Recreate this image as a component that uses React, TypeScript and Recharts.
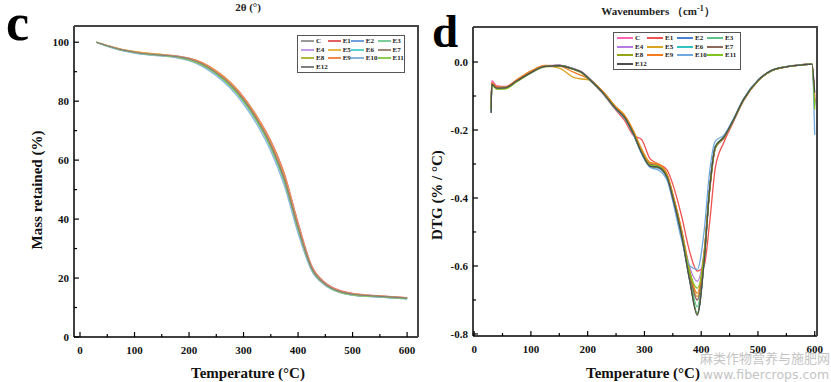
import React from "react";
import { LineChart, Line, XAxis, YAxis, Legend } from "recharts";

const SERIF = "'Liberation Serif', 'DejaVu Serif', serif";

const SERIES = ["C", "E1", "E2", "E3", "E4", "E5", "E6", "E7", "E8", "E9", "E10", "E11", "E12"];

const TG_COLORS = ["#9a9a9a", "#e06060", "#6fa0dc", "#7ccc9a", "#c39be6", "#e8b84a", "#5fd0d0", "#a08878", "#b0b840", "#f08a4a", "#8ab4e0", "#8ccc50", "#808080"];
const DTG_COLORS = ["#ff66b2", "#ef5350", "#4a7fd6", "#5cc48a", "#b57be0", "#d9a520", "#2ec4c4", "#8b6a5c", "#94a617", "#f47b20", "#6fa8dc", "#7fc31c", "#4d4d4d"];

// TG curves (mass retained, %)
const TG_TEMPS = [30, 50, 75, 100, 125, 150, 175, 200, 225, 250, 275, 300, 325, 350, 375, 400, 425, 450, 475, 500, 550, 600];
const TG_C = [100, 98.8, 97.4, 96.5, 95.9, 95.5, 95.1, 94.2, 92.4, 89.5, 85.6, 80.3, 73.4, 64.8, 53.2, 37.0, 23.2, 17.8, 15.4, 14.4, 13.7, 13.1];
const TG_E1 = [100, 98.9, 97.6, 96.8, 96.2, 95.8, 95.4, 94.6, 93.0, 90.3, 86.6, 81.5, 74.8, 66.6, 55.4, 38.9, 24.2, 18.4, 15.9, 14.8, 14.0, 13.4];
const TG_E2 = [100, 98.7, 97.4, 96.5, 95.9, 95.5, 95.0, 94.0, 92.1, 89.1, 85.1, 79.9, 73.0, 64.3, 52.6, 36.5, 23.0, 17.7, 15.3, 14.3, 13.6, 13.0];
const TG_E3 = [100, 98.8, 97.5, 96.6, 96.0, 95.6, 95.2, 94.3, 92.6, 89.8, 86.0, 80.8, 74.0, 65.5, 54.0, 37.6, 23.5, 18.0, 15.5, 14.5, 13.8, 13.2];
const TG_E4 = [100, 98.8, 97.5, 96.7, 96.1, 95.7, 95.3, 94.5, 92.8, 90.0, 86.2, 81.0, 74.2, 65.8, 54.4, 38.2, 23.9, 18.2, 15.7, 14.6, 13.9, 13.3];
const TG_E5 = [100, 98.9, 97.7, 96.9, 96.3, 95.9, 95.3, 94.4, 92.9, 90.2, 86.4, 81.2, 74.5, 66.0, 54.6, 38.0, 23.7, 18.1, 15.6, 14.6, 13.9, 13.3];
const TG_E6 = [100, 98.7, 97.3, 96.4, 95.8, 95.4, 94.9, 93.9, 92.0, 89.0, 85.0, 79.7, 72.8, 64.0, 52.2, 36.0, 22.7, 17.6, 15.2, 14.2, 13.5, 12.9];
const TG_E7 = [100, 98.8, 97.5, 96.6, 96.0, 95.6, 95.2, 94.3, 92.5, 89.7, 85.9, 80.6, 73.8, 65.2, 53.6, 37.3, 23.4, 17.9, 15.5, 14.5, 13.8, 13.2];
const TG_E8 = [100, 98.8, 97.4, 96.5, 95.9, 95.5, 95.1, 94.1, 92.3, 89.4, 85.5, 80.2, 73.3, 64.6, 53.0, 36.8, 23.1, 17.8, 15.4, 14.4, 13.7, 13.1];
const TG_E9 = [100, 98.9, 97.6, 96.7, 96.1, 95.7, 95.3, 94.5, 92.9, 90.1, 86.3, 81.1, 74.3, 65.9, 54.5, 38.1, 23.8, 18.2, 15.7, 14.6, 13.9, 13.3];
const TG_E10 = [100, 98.6, 97.2, 96.3, 95.7, 95.3, 94.8, 93.7, 91.7, 88.6, 84.5, 79.0, 71.9, 63.0, 51.2, 35.2, 22.4, 17.5, 15.2, 14.2, 13.5, 12.9];
const TG_E11 = [100, 98.7, 97.4, 96.5, 95.9, 95.5, 95.0, 94.0, 92.2, 89.3, 85.3, 80.0, 73.1, 64.4, 52.8, 36.6, 23.0, 17.7, 15.3, 14.3, 13.6, 13.0];
const TG_E12 = [100, 98.8, 97.5, 96.6, 96.0, 95.6, 95.2, 94.3, 92.5, 89.6, 85.8, 80.5, 73.6, 65.0, 53.4, 37.2, 23.3, 17.9, 15.5, 14.5, 13.8, 13.2];

// DTG curves (% / °C)
const DTG_TEMPS = [30, 31, 40, 55, 75, 100, 125, 150, 175, 190, 200, 225, 250, 265, 280, 295, 310, 325, 340, 350, 365, 380, 393, 405, 415, 425, 440, 455, 475, 500, 525, 550, 575, 595, 600];
const DTG_C = [-0.130, -0.055, -0.070, -0.072, -0.053, -0.028, -0.011, -0.009, -0.019, -0.029, -0.043, -0.084, -0.133, -0.158, -0.203, -0.260, -0.298, -0.303, -0.333, -0.390, -0.495, -0.620, -0.700, -0.570, -0.368, -0.250, -0.223, -0.178, -0.110, -0.055, -0.025, -0.014, -0.009, -0.006, -0.110];
const DTG_E1 = [-0.130, -0.060, -0.072, -0.073, -0.054, -0.029, -0.012, -0.010, -0.021, -0.032, -0.047, -0.090, -0.142, -0.172, -0.215, -0.228, -0.285, -0.300, -0.318, -0.360, -0.450, -0.560, -0.615, -0.600, -0.470, -0.310, -0.236, -0.182, -0.113, -0.056, -0.025, -0.014, -0.008, -0.005, -0.100];
const DTG_E2 = [-0.145, -0.066, -0.076, -0.076, -0.056, -0.031, -0.013, -0.011, -0.021, -0.031, -0.046, -0.087, -0.138, -0.163, -0.210, -0.268, -0.308, -0.312, -0.342, -0.402, -0.510, -0.645, -0.740, -0.590, -0.372, -0.248, -0.220, -0.176, -0.108, -0.054, -0.024, -0.014, -0.009, -0.006, -0.130];
const DTG_E3 = [-0.140, -0.065, -0.075, -0.074, -0.055, -0.030, -0.012, -0.010, -0.020, -0.030, -0.044, -0.085, -0.135, -0.160, -0.205, -0.262, -0.300, -0.305, -0.335, -0.395, -0.500, -0.630, -0.720, -0.580, -0.370, -0.250, -0.222, -0.178, -0.110, -0.055, -0.025, -0.014, -0.009, -0.006, -0.120];
const DTG_E4 = [-0.135, -0.062, -0.073, -0.074, -0.054, -0.029, -0.012, -0.010, -0.020, -0.031, -0.045, -0.086, -0.136, -0.162, -0.208, -0.264, -0.302, -0.306, -0.336, -0.392, -0.492, -0.605, -0.645, -0.560, -0.380, -0.254, -0.224, -0.179, -0.111, -0.055, -0.025, -0.014, -0.009, -0.006, -0.115];
const DTG_E5 = [-0.140, -0.062, -0.074, -0.074, -0.052, -0.026, -0.012, -0.018, -0.045, -0.050, -0.052, -0.083, -0.132, -0.156, -0.200, -0.256, -0.295, -0.300, -0.330, -0.388, -0.490, -0.615, -0.690, -0.565, -0.372, -0.252, -0.223, -0.177, -0.111, -0.055, -0.025, -0.014, -0.009, -0.006, -0.115];
const DTG_E6 = [-0.145, -0.066, -0.076, -0.075, -0.055, -0.030, -0.012, -0.010, -0.020, -0.031, -0.045, -0.086, -0.137, -0.162, -0.208, -0.266, -0.306, -0.310, -0.340, -0.400, -0.506, -0.640, -0.740, -0.585, -0.370, -0.248, -0.220, -0.176, -0.109, -0.054, -0.024, -0.014, -0.009, -0.006, -0.125];
const DTG_E7 = [-0.140, -0.064, -0.075, -0.075, -0.055, -0.030, -0.012, -0.010, -0.021, -0.031, -0.045, -0.086, -0.136, -0.161, -0.206, -0.263, -0.301, -0.306, -0.336, -0.394, -0.498, -0.625, -0.700, -0.575, -0.370, -0.251, -0.223, -0.178, -0.110, -0.055, -0.025, -0.014, -0.009, -0.006, -0.120];
const DTG_E8 = [-0.145, -0.067, -0.078, -0.078, -0.058, -0.032, -0.014, -0.012, -0.022, -0.033, -0.047, -0.088, -0.139, -0.164, -0.210, -0.267, -0.307, -0.311, -0.341, -0.400, -0.505, -0.642, -0.740, -0.588, -0.372, -0.250, -0.221, -0.177, -0.109, -0.054, -0.024, -0.014, -0.009, -0.006, -0.125];
const DTG_E9 = [-0.140, -0.063, -0.074, -0.074, -0.053, -0.027, -0.010, -0.012, -0.030, -0.040, -0.048, -0.084, -0.134, -0.158, -0.202, -0.258, -0.297, -0.302, -0.332, -0.390, -0.492, -0.618, -0.680, -0.565, -0.372, -0.252, -0.223, -0.177, -0.110, -0.055, -0.025, -0.014, -0.009, -0.006, -0.115];
const DTG_E10 = [-0.150, -0.068, -0.078, -0.077, -0.057, -0.032, -0.013, -0.011, -0.021, -0.032, -0.047, -0.089, -0.140, -0.166, -0.212, -0.270, -0.310, -0.318, -0.348, -0.410, -0.520, -0.600, -0.610, -0.500, -0.320, -0.232, -0.215, -0.172, -0.107, -0.053, -0.024, -0.013, -0.008, -0.006, -0.215];
const DTG_E11 = [-0.140, -0.068, -0.080, -0.079, -0.058, -0.032, -0.013, -0.011, -0.021, -0.032, -0.046, -0.087, -0.137, -0.162, -0.207, -0.264, -0.303, -0.307, -0.337, -0.396, -0.500, -0.620, -0.665, -0.570, -0.374, -0.252, -0.222, -0.177, -0.110, -0.055, -0.025, -0.014, -0.009, -0.006, -0.140];
const DTG_E12 = [-0.150, -0.066, -0.077, -0.076, -0.056, -0.031, -0.013, -0.011, -0.021, -0.031, -0.046, -0.087, -0.138, -0.163, -0.209, -0.267, -0.306, -0.310, -0.340, -0.400, -0.506, -0.645, -0.745, -0.590, -0.372, -0.249, -0.221, -0.176, -0.109, -0.054, -0.024, -0.014, -0.009, -0.006, -0.090];

const TEMP_TICKS = [0, 50, 100, 150, 200, 250, 300, 350, 400, 450, 500, 550, 600];
const MASS_TICKS = [0, 10, 20, 30, 40, 50, 60, 70, 80, 90, 100];
const DTG_TICKS = [-0.8, -0.7, -0.6, -0.5, -0.4, -0.3, -0.2, -0.1, 0];

const TG_VALUES = [TG_C, TG_E1, TG_E2, TG_E3, TG_E4, TG_E5, TG_E6, TG_E7, TG_E8, TG_E9, TG_E10, TG_E11, TG_E12];
const DTG_VALUES = [DTG_C, DTG_E1, DTG_E2, DTG_E3, DTG_E4, DTG_E5, DTG_E6, DTG_E7, DTG_E8, DTG_E9, DTG_E10, DTG_E11, DTG_E12];

function buildRows(temps: number[], values: number[][]) {
  return temps.map((t, i) => {
    const row: Record<string, number> = { t };
    SERIES.forEach((s, k) => (row[s] = values[k][i]));
    return row;
  });
}

const tgData = buildRows(TG_TEMPS, TG_VALUES);
const dtgData = buildRows(DTG_TEMPS, DTG_VALUES);

const tickText = { fontFamily: SERIF, fontWeight: "bold" as const, fontSize: 11, fill: "#111" };

const xTick = (props: any) => {
  const { x, y, payload } = props;
  const v = payload.value;
  const major = v % 100 === 0;
  return (
    <g>
      <line x1={x} x2={x} y1={y} y2={y - (major ? 5 : 3)} stroke="#000" strokeWidth={1.2} />
      {major && (
        <text x={x} y={y + 17} textAnchor="middle" {...tickText}>
          {v}
        </text>
      )}
    </g>
  );
};

const massTick = (props: any) => {
  const { x, y, payload } = props;
  const v = payload.value;
  const major = v % 20 === 0;
  return (
    <g>
      <line x1={x} x2={x + (major ? 5 : 3)} y1={y} y2={y} stroke="#000" strokeWidth={1.2} />
      {major && (
        <text x={x - 5} y={y + 4} textAnchor="end" {...tickText}>
          {v}
        </text>
      )}
    </g>
  );
};

const dtgTick = (props: any) => {
  const { x, y, payload } = props;
  const v = payload.value;
  const major = Math.round(v * 10) % 2 === 0;
  return (
    <g>
      <line x1={x} x2={x + (major ? 5 : 3)} y1={y} y2={y} stroke="#000" strokeWidth={1.2} />
      {major && (
        <text x={x - 5} y={y + 4} textAnchor="end" {...tickText}>
          {Math.abs(v) < 1e-9 ? "0.0" : v.toFixed(1)}
        </text>
      )}
    </g>
  );
};

function LegendBox({ colors, width, lineW }: { colors: string[]; width: number; lineW: number }) {
  return (
    <div
      style={{
        width,
        boxSizing: "border-box",
        border: "1px solid #555",
        padding: "1px 3px",
        display: "grid",
        gridTemplateColumns: "repeat(4, 1fr)",
        background: "#fff",
      }}
    >
      {SERIES.map((s, i) => (
        <div key={s} style={{ display: "flex", alignItems: "center", height: 8.5 }}>
          <span style={{ display: "inline-block", width: lineW, height: 1.6, background: colors[i], marginRight: 2 }} />
          <span style={{ fontFamily: SERIF, fontWeight: "bold", fontSize: 7, lineHeight: "8px", color: "#222" }}>{s}</span>
        </div>
      ))}
    </div>
  );
}

const axisTitle = { fontFamily: SERIF, fontWeight: "bold" as const, fontSize: 15, fill: "#111" };

export default function App() {
  return (
    <div style={{ position: "absolute", left: 0, top: 0, width: 831, height: 382, background: "#fff", overflow: "hidden" }}>
      <div style={{ position: "absolute", left: 0, top: 0 }}>
        <LineChart width={420} height={382} data={tgData} margin={{ top: 26, right: 2, bottom: 0, left: 20 }}>
          <XAxis
            dataKey="t"
            type="number"
            domain={[-11, 620]}
            ticks={TEMP_TICKS}
            interval={0}
            height={45}
            tickLine={false}
            tickSize={0}
            tickMargin={0}
            tick={xTick}
            axisLine={{ stroke: "#000", strokeWidth: 1.5 }}
            label={() => (
              <text x={248} y={378} textAnchor="middle" {...axisTitle}>
                Temperature (°C)
              </text>
            )}
          />
          <YAxis
            type="number"
            domain={[0, 105.5]}
            ticks={MASS_TICKS}
            interval={0}
            width={54}
            tickLine={false}
            tickSize={0}
            tickMargin={0}
            tick={massTick}
            axisLine={{ stroke: "#000", strokeWidth: 1.5 }}
            label={() => (
              <text transform="translate(42,190) rotate(-90)" textAnchor="middle" {...axisTitle}>
                Mass retained (%)
              </text>
            )}
          />
          <Legend
            verticalAlign="middle"
            layout="horizontal"
            wrapperStyle={{ left: 297, top: 35, width: 108 }}
            content={() => <LegendBox colors={TG_COLORS} width={108} lineW={13} />}
          />
          {SERIES.map((s, i) => (
            <Line key={s} type="monotone" dataKey={s} stroke={TG_COLORS[i]} strokeWidth={1.2} dot={false} isAnimationActive={false} />
          ))}
        </LineChart>
      </div>

      <div style={{ position: "absolute", left: 420, top: 0 }}>
        <LineChart width={411} height={382} data={dtgData} margin={{ top: 27, right: 14, bottom: 0, left: 0 }}>
          <XAxis
            dataKey="t"
            type="number"
            domain={[-2, 604]}
            ticks={TEMP_TICKS}
            interval={0}
            height={46}
            tickLine={false}
            tickSize={0}
            tickMargin={0}
            tick={xTick}
            axisLine={{ stroke: "#000", strokeWidth: 1.5 }}
            label={() => (
              <text x={223} y={378} textAnchor="middle" {...axisTitle}>
                Temperature (°C)
              </text>
            )}
          />
          <YAxis
            type="number"
            domain={[-0.806, 0.103]}
            ticks={DTG_TICKS}
            interval={0}
            width={53}
            tickLine={false}
            tickSize={0}
            tickMargin={0}
            tick={dtgTick}
            axisLine={{ stroke: "#000", strokeWidth: 1.5 }}
            label={() => (
              <text transform="translate(22,195) rotate(-90)" textAnchor="middle" {...axisTitle}>
                DTG (% / °C)
              </text>
            )}
          />
          <Legend
            verticalAlign="middle"
            layout="horizontal"
            wrapperStyle={{ left: 193, top: 32, width: 128 }}
            content={() => <LegendBox colors={DTG_COLORS} width={128} lineW={16} />}
          />
          {SERIES.map((s, i) => (
            <Line key={s} type="monotone" dataKey={s} stroke={DTG_COLORS[i]} strokeWidth={1.3} dot={false} isAnimationActive={false} />
          ))}
        </LineChart>
      </div>

      <svg width={831} height={382} style={{ position: "absolute", left: 0, top: 0, pointerEvents: "none" }}>
        {/* top and right edges of both plot frames */}
        <path d="M74 26 H418 V337" fill="none" stroke="#444" strokeWidth={2} />
        <path d="M473 27 H817 V336" fill="none" stroke="#444" strokeWidth={2} />
        <text x={248} y={11} textAnchor="middle" fontFamily={SERIF} fontWeight="bold" fontSize={11} fill="#222">
          2θ (°)
        </text>
        <text x={658} y={15} textAnchor="middle" fontFamily={SERIF} fontWeight="bold" fontSize={11} fill="#222">
          Wavenumbers （cm<tspan dy={-4} fontSize={8}>-1</tspan><tspan dy={4}>）</tspan>
        </text>
        <text x={6} y={40} fontFamily={SERIF} fontWeight="bold" fontSize={52} fill="#000">
          c
        </text>
        <text x={432} y={47} fontFamily={SERIF} fontWeight="bold" fontSize={47} fill="#000">
          d
        </text>
        <text x={765} y={363} textAnchor="middle" fontFamily="'Noto Sans CJK SC', sans-serif" fontSize={13} fill="#c4c4c4">
          麻类作物营养与施肥网
        </text>
        <text x={766} y={379} textAnchor="middle" fontFamily="'DejaVu Sans', sans-serif" fontSize={12.5} fill="#c4c4c4">
          www.fibercrops.com
        </text>
      </svg>
    </div>
  );
}
